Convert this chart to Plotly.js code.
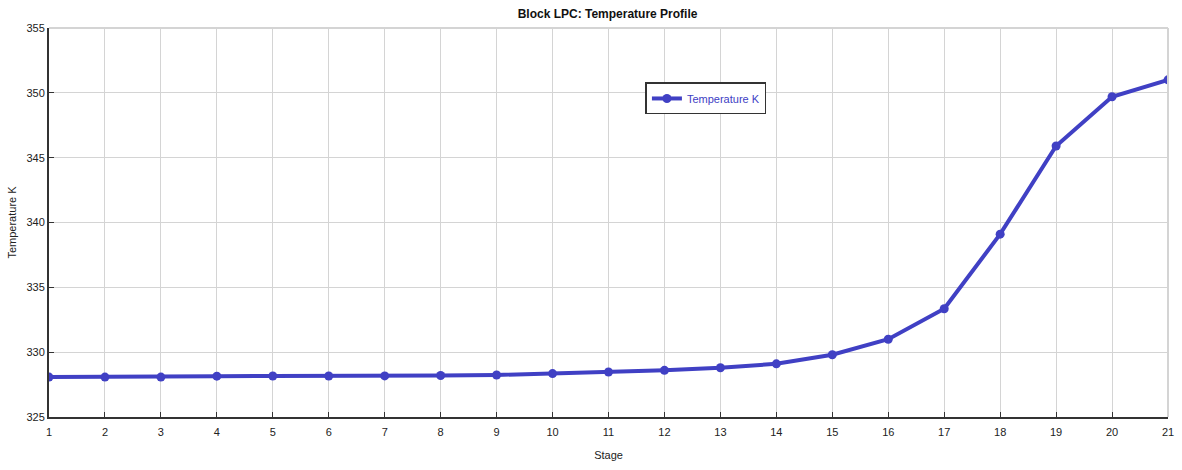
<!DOCTYPE html>
<html>
<head>
<meta charset="utf-8">
<script src="https://cdn.plot.ly/plotly-3.0.1.min.js"></script>
<style>html,body{margin:0;padding:0;background:#fff;}#chart{width:1182px;height:470px;}</style>
</head>
<body>
<div id="chart"></div>
<script>
const stages = [1,2,3,4,5,6,7,8,9,10,11,12,13,14,15,16,17,18,19,20,21];
const temperatureK = [328.08,328.08,328.08,328.15,328.16,328.16,328.17,328.2,328.24,328.35,328.47,328.6,328.8,329.1,329.8,331.0,333.35,339.1,345.9,349.7,351.0];
const xTicks = stages;
const yTicks = [325,330,335,340,345,350,355];

const font = "Liberation Sans, Arial, sans-serif";
const trace = {
  x: stages, y: temperatureK, type: 'scatter', mode: 'lines+markers',
  name: 'Temperature K',
  line: {color: '#4040c4', width: 4},
  marker: {color: '#4040c4', size: 9, symbol: 'circle'}
};
const layout = {
  width: 1182, height: 470,
  margin: {l: 49, r: 14, t: 28, b: 53},
  paper_bgcolor: '#fff', plot_bgcolor: '#fff',
  font: {family: font, size: 11, color: '#222'},
  title: {text: '<b>Block LPC: Temperature Profile</b>', x: 0.514, xanchor: 'center', y: 0.97, yanchor: 'middle', font: {family: font, size: 12, color: '#111'}},
  xaxis: {
    range: [1, 21], tickvals: xTicks, ticktext: xTicks.map(String),
    showgrid: true, gridcolor: '#d4d4d4', gridwidth: 1,
    showline: true, linecolor: '#333', linewidth: 2,
    ticks: 'inside', ticklen: 5, tickcolor: '#333', zeroline: false,
    ticklabelstandoff: 4,
    title: {text: 'Stage', font: {family: font, size: 11, color: '#222'}, standoff: 14},
    mirror: false
  },
  yaxis: {
    range: [325, 355], tickvals: yTicks,
    showgrid: true, gridcolor: '#d4d4d4', gridwidth: 1,
    showline: true, linecolor: '#333', linewidth: 2,
    ticks: 'inside', ticklen: 5, tickcolor: '#333', zeroline: false,
    title: {text: 'Temperature K', font: {family: font, size: 11, color: '#222'}, standoff: 8}
  },
  showlegend: true,
  legend: {x: 0.533, y: 0.86, xanchor: 'left', yanchor: 'top', bgcolor: '#fff', bordercolor: '#333', borderwidth: 1.5,
    font: {family: font, size: 11, color: '#4040c4'}},
  shapes: [
    {type: 'line', xref: 'paper', yref: 'paper', x0: 0, x1: 1, y0: 1, y1: 1, line: {color: '#d4d4d4', width: 2}},
    {type: 'line', xref: 'paper', yref: 'paper', x0: 1, x1: 1, y0: 0, y1: 1, line: {color: '#d4d4d4', width: 2}}
  ]
};
Plotly.newPlot('chart', [trace], layout, {displayModeBar: false, staticPlot: true});
</script>
</body>
</html>
